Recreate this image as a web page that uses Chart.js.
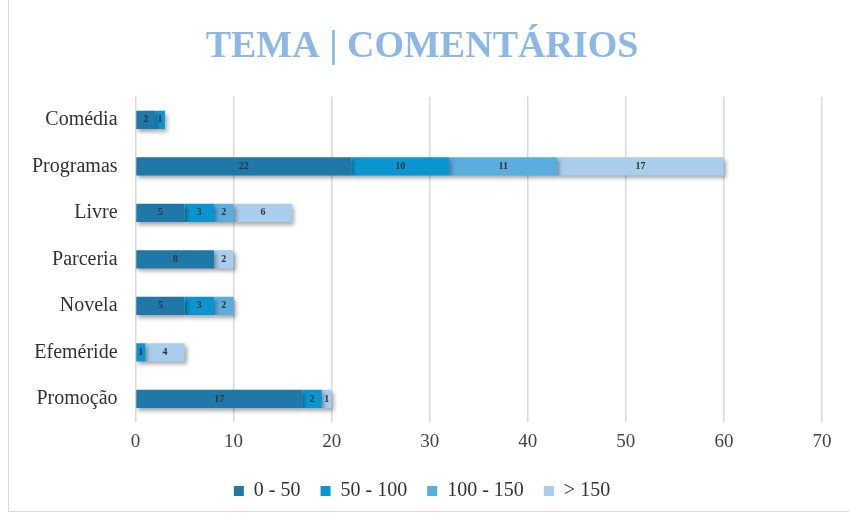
<!DOCTYPE html>
<html>
<head>
<meta charset="utf-8">
<script src="https://cdn.jsdelivr.net/npm/chart.js@4.4.1/dist/chart.umd.min.js"></script>
<style>
  html, body { margin:0; padding:0; background:#fff; }
  #wrap { position:absolute; left:8px; top:0; width:841px; height:512px; border-left:1px solid #d9d9d9; border-bottom:1px solid #d9d9d9; box-sizing:border-box; }
</style>
</head>
<body>
<div id="wrap"><canvas id="temaChart" width="840" height="511"></canvas></div>
<script>
const categories = ['Comédia', 'Programas', 'Livre', 'Parceria', 'Novela', 'Efeméride', 'Promoção'];
const faixa0a50 = [2, 22, 5, 8, 5, 0, 17];
const faixa50a100 = [1, 10, 3, 0, 3, 1, 2];
const faixa100a150 = [0, 11, 2, 0, 2, 0, 0];
const faixaMais150 = [0, 17, 6, 2, 0, 4, 1];
const xTicks = [0, 10, 20, 30, 40, 50, 60, 70];

const serif = '"Liberation Serif", "Times New Roman", serif';

// numbers in the middle of each segment
const segLabels = {
  id: 'segLabels',
  afterDatasetsDraw(chart) {
    const c = chart.ctx;
    c.save();
    c.shadowColor = 'transparent';
    c.font = 'bold 10px ' + serif;
    c.fillStyle = '#333';
    c.textAlign = 'center';
    c.textBaseline = 'middle';
    chart.data.datasets.forEach((ds, i) => {
      chart.getDatasetMeta(i).data.forEach((bar, j) => {
        const v = ds.data[j];
        if (!v) return;
        const p = bar.getProps(['x', 'y', 'base'], true);
        c.fillText(v, (p.x + p.base) / 2, p.y);
      });
    });
    c.restore();
  }
};

const barShadow = {
  id: 'barShadow',
  beforeDatasetsDraw(chart) {
    const c = chart.ctx;
    c.save();
    c.shadowColor = 'rgba(0,0,0,0.35)';
    c.shadowBlur = 4;
    c.shadowOffsetX = 2;
    c.shadowOffsetY = 3;
  },
  afterDatasetsDraw(chart) {
    chart.ctx.restore();
  }
};

const ctx = document.getElementById('temaChart').getContext('2d');
new Chart(ctx, {
  type: 'bar',
  data: {
    labels: categories,
    datasets: [
      {label: '0 - 50', data: faixa0a50, backgroundColor: '#1f78a8'},
      {label: '50 - 100', data: faixa50a100, backgroundColor: '#0a95d0'},
      {label: '100 - 150', data: faixa100a150, backgroundColor: '#5badde'},
      {label: '> 150', data: faixaMais150, backgroundColor: '#a9cdec'}
    ]
  },
  options: {
    indexAxis: 'y',
    responsive: false,
    animation: false,
    layout: {padding: {left: 13, right: 27, top: 0, bottom: 0}},
    datasets: {bar: {barPercentage: 0.78, categoryPercentage: 0.5}},
    scales: {
      x: {
        stacked: true,
        min: 0, max: 70,
        afterBuildTicks(axis) { axis.ticks = xTicks.map(v => ({value: v})); },
        grid: {color: '#d9d9d9', lineWidth: 1.5, drawTicks: false},
        border: {display: false},
        ticks: {color: '#444', font: {family: serif, size: 19}, padding: 8}
      },
      y: {
        stacked: true,
        grid: {display: false},
        border: {display: false},
        ticks: {color: '#333', font: {family: serif, size: 20}, padding: 10}
      }
    },
    plugins: {
      title: {
        display: true,
        text: 'TEMA | COMENTÁRIOS',
        color: '#8db8e6',
        font: {family: serif, size: 38, weight: 'bold'},
        padding: {top: 24, bottom: 27}
      },
      legend: {
        position: 'bottom',
        labels: {
          color: '#333',
          font: {family: serif, size: 20},
          boxWidth: 10, boxHeight: 10,
          padding: 20
        }
      },
      tooltip: {enabled: false}
    }
  },
  plugins: [barShadow, segLabels]
});
</script>
</body>
</html>
